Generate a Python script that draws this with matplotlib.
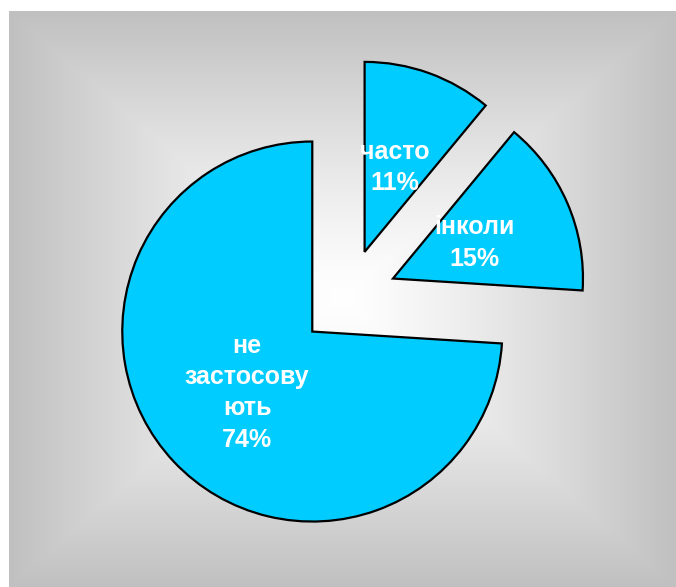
import numpy as np
import matplotlib
matplotlib.use("Agg")
import matplotlib.pyplot as plt

labels = ["часто", "інколи", "не\nзастосову\nють"]
values = [11, 15, 74]
pct_labels = ["11%", "15%", "74%"]

W, H = 676, 587
fig = plt.figure(figsize=(W / 100, H / 100), dpi=100)
fig.patch.set_facecolor("white")

# background gradient panel
bg = fig.add_axes([9 / W, 0, (W - 9) / W, (H - 11) / H])
bg.set_axis_off()
ny, nx = 288, 334
u = np.linspace(-1, 1, nx)
v = np.linspace(-1, 1, ny)
U, V = np.meshgrid(u, v)
cu, cv = (342 - 9) / (W - 9) * 2 - 1, (298 - 11) / (H - 11) * 2 - 1
du = np.where(U >= cu, (U - cu) / (1 - cu), (cu - U) / (1 + cu))
dv = np.where(V >= cv, (V - cv) / (1 - cv), (cv - V) / (1 + cv))
D = np.maximum(du, dv)
g = (255 - 63 * np.clip(D, 0, 1) ** 1.25) / 255.0
img = np.dstack([g, g, g])
bg.imshow(img, extent=[0, 1, 1, 0], aspect="auto", interpolation="bilinear")
bg.set_xlim(0, 1)
bg.set_ylim(1, 0)

# pie axes in pixel coordinates
ax = fig.add_axes([0, 0, 1, 1])
ax.set_axis_off()
ax.patch.set_alpha(0)
ax.set_xlim(0, W)
ax.set_ylim(0, H)

full = [f"{l}\n{p}" for l, p in zip(labels, pct_labels)]
order = [2, 1, 0]
wedges, texts = ax.pie(
    [values[i] for i in order],
    labels=[full[i] for i in order],
    explode=[49, 49, 49],
    startangle=90,
    counterclock=True,
    center=(348, H - 298),
    radius=190,
    labeldistance=0.47,
    colors=["#00CCFF"] * 3,
    wedgeprops=dict(edgecolor="black", linewidth=1.6),
    textprops=dict(color="white", fontsize=18, fontweight="bold",
                   family=["Liberation Sans", "DejaVu Sans"], linespacing=1.38),
    frame=True,
)
for t in texts:
    t.set_ha("center")
    t.set_va("center")
    t.set_multialignment("center")
ax.set_axis_off()
ax.set_xlim(0, W)
ax.set_ylim(0, H)
ax.set_aspect("auto")

fig.savefig("out.png", dpi=100, facecolor="white")
